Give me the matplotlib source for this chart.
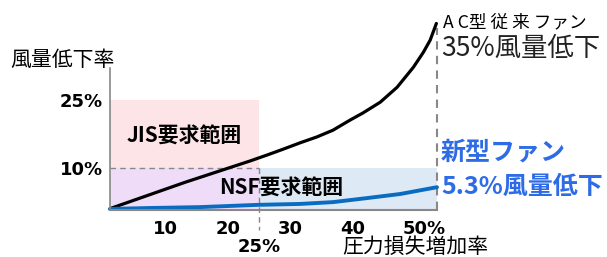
import matplotlib
import matplotlib.pyplot as plt
from matplotlib.patches import Rectangle
from matplotlib.transforms import ScaledTranslation

plt.rcParams['font.family'] = ['Noto Sans CJK JP', 'DejaVu Sans']

# 読み取った値 (圧力損失増加率 %, 風量低下率 %)
ac_x = [1.4, 13.2, 23.6, 26.3, 28.9, 31.6, 34.3, 36.9, 39.6, 41.7, 44.5, 47.2, 49.8, 51.4, 52.5, 53.5]
ac_y = [1.1, 6.8, 11.5, 12.8, 14.1, 15.5, 16.8, 18.3, 20.5, 22.1, 24.5, 27.8, 32.2, 35.5, 38.2, 41.9]
new_x = [1.1, 7.5, 15.6, 24.9, 31.6, 36.9, 42.4, 47.7, 53.6]
new_y = [0.9, 1.1, 1.3, 1.8, 2.0, 2.4, 3.3, 4.2, 5.7]

x_ticks = [10, 20, 30, 40, 50]
x_labels = ['10', '20', '30', '40', '50%']
y_ticks = [10, 25]
y_labels = ['10%', '25%']

x0, x_end = 1.12, 53.6
y0, y_top = 0.66, 42
jis_x, jis_y = 25, 25
nsf_y = 10

fig = plt.figure(figsize=(6.07, 2.57), dpi=100)
ax = fig.add_axes([110/607, 47/257, 327/607, 187/257])
ax.set_xlim(x0, x_end)
ax.set_ylim(y0, y_top)

# 要求範囲の塗り
ax.add_patch(Rectangle((x0, nsf_y), jis_x - x0, jis_y - nsf_y, color='#fde4e7', lw=0))
ax.add_patch(Rectangle((x0, y0), jis_x - x0, nsf_y - y0, color='#efdcf9', lw=0))
ax.add_patch(Rectangle((jis_x, y0), x_end - jis_x, nsf_y - y0, color='#dde9f5', lw=0))

ax.plot([x0, jis_x], [nsf_y, nsf_y], ls=(0, (4, 3)), color='#888888', lw=1)
ax.plot([jis_x, jis_x], [nsf_y, -3.75], ls=(0, (4, 3)), color='#888888', lw=1, clip_on=False)
ax.plot([x_end, x_end], [y0, 41], ls=(0, (4, 3)), color='#888888', lw=1.5, clip_on=False)

ax.plot(ac_x, ac_y, color='black', lw=2.3, clip_on=False,
        solid_capstyle='round', solid_joinstyle='round')
ax.plot(new_x, new_y, color='#0a6cc0', lw=2.8, clip_on=False,
        solid_capstyle='round', solid_joinstyle='round')

for s in ['top', 'right']:
    ax.spines[s].set_visible(False)
ax.spines['left'].set_bounds(y0, 32)
ax.spines['left'].set_color('#888888')
ax.spines['bottom'].set_color('#888888')
ax.spines['left'].set_linewidth(1.2)
ax.spines['bottom'].set_linewidth(1.5)

ax.set_xticks(x_ticks)
ax.set_xticklabels(x_labels, fontsize=13, fontweight='bold', family='DejaVu Sans')
ax.set_yticks(y_ticks)
ax.set_yticklabels(y_labels, fontsize=13, fontweight='bold', family='DejaVu Sans')
ax.tick_params(length=0)
ax.tick_params(axis='x', pad=7)
ax.tick_params(axis='y', pad=5)
lab50 = ax.get_xticklabels()[-1]
lab50.set_horizontalalignment('left')
lab50.set_transform(lab50.get_transform() + ScaledTranslation(-12/100, 0, fig.dpi_scale_trans))

ax.text(jis_x, -0.2, '25%', transform=ax.get_xaxis_transform(), ha='center', va='center',
        fontsize=13, fontweight='bold', family='DejaVu Sans')

ax.text(13, 17, 'JIS要求範囲', ha='center', va='center', fontsize=15, fontweight='bold')
ax.text(28.6, 5.4, 'NSF要求範囲', ha='center', va='center', fontsize=15, fontweight='bold')

fig.text(62/607, 1 - 60/257, '風量低下率', ha='center', va='center', fontsize=15)
fig.text(415/607, 1 - 247/257, '圧力損失増加率', ha='center', va='center', fontsize=15)

fig.text(443/607, 1 - 22/257, 'A C型 従 来 ファン', ha='left', va='center', fontsize=12.7)
fig.text(441/607, 1 - 48/257, '35%風量低下', ha='left', va='center', fontsize=19, color='#222222')
fig.text(441/607, 1 - 153/257, '新型ファン', ha='left', va='center', fontsize=18,
         fontweight='bold', color='#2e6be6')
fig.text(441/607, 1 - 187/257, '5.3%風量低下', ha='left', va='center', fontsize=18,
         fontweight='bold', color='#2e6be6')

fig.savefig('out.png', dpi=100)
